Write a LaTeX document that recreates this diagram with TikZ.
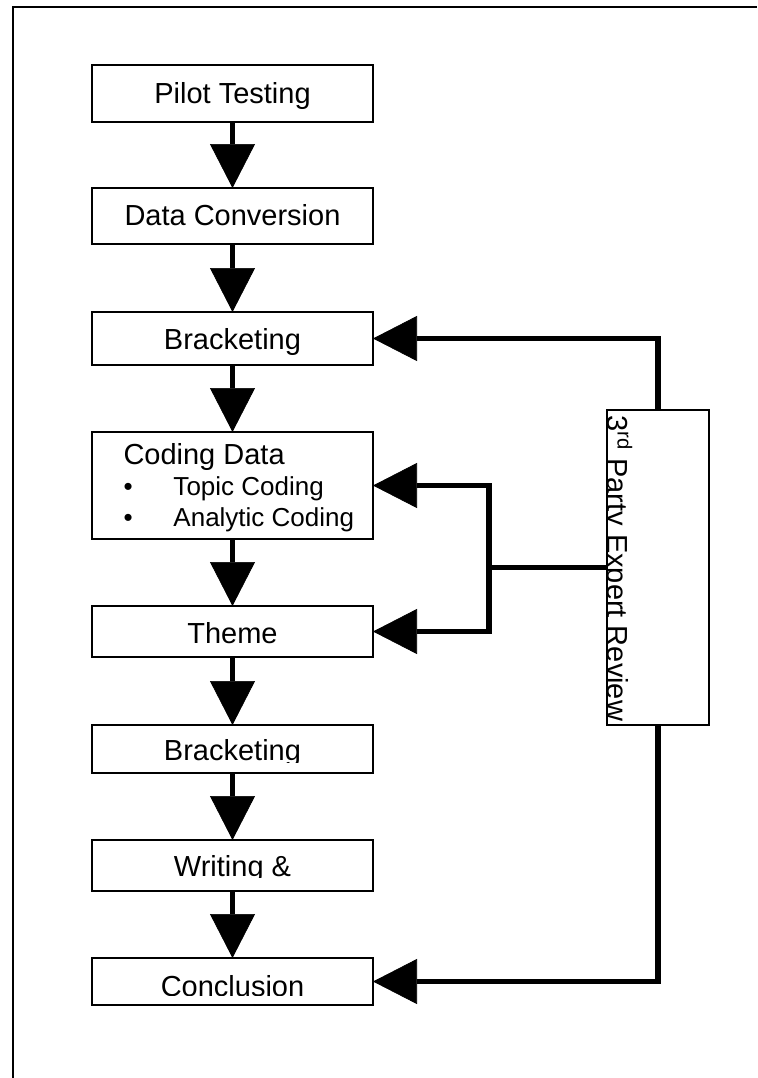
\documentclass[tikz,border=0pt]{standalone}
\usepackage{fontspec}
\setmainfont{Liberation Sans}
\usetikzlibrary{arrows.meta}

\tikzset{every picture/.style={line width=0.75pt}}
\tikzset{
  stepbox/.style={draw, rectangle, line width=1.25pt, minimum width=210.75pt, inner sep=0pt, outer sep=0pt},
  steptext/.style={inner sep=0pt, anchor=base, font=\fontsize{21.75}{23.25}\selectfont},
  flow/.style={line width=4.25pt, -{Triangle[length=33pt,width=33.75pt,line width=0.5pt]}},
  feed/.style={line width=4pt}
}

\begin{document}
\begin{tikzpicture}[x=0.75pt,y=0.75pt,yscale=-1]
  \useasboundingbox (0,0) rectangle (757,1078);

  %Frame
  \draw[line width=1.5pt] (13,1078) -- (13,7) -- (757,7);

  %Boxes
  \node[stepbox, minimum height=42.75pt] (pilot) at (232.5,93.5) {};
  \node[stepbox, minimum height=42pt] (conv) at (232.5,216) {};
  \node[stepbox, minimum height=39.75pt] (brk1) at (232.5,338.5) {};
  \node[stepbox, minimum height=80.25pt] (code) at (232.5,485.5) {};
  \node[stepbox, minimum height=38.25pt] (theme) at (232.5,631.5) {};
  \node[stepbox, minimum height=36pt] (brk2) at (232.5,749) {};
  \node[stepbox, minimum height=38.25pt] (write) at (232.5,865.5) {};
  \node[stepbox, minimum height=35.25pt] (concl) at (232.5,981.5) {};
  \node[stepbox, minimum width=76.5pt, minimum height=236.25pt] (review) at (658,567.5) {};

  % Text Node
  \node[steptext] (pilot-t) at (232.5,103) {Pilot Testing};
  \node[steptext] (conv-t) at (232.5,225) {Data Conversion};
  \node[steptext] (brk1-t) at (232.5,349) {Bracketing};
  \node[steptext, anchor=base west] (code-t) at (123,464) {\begin{tabular}[t]{@{}l@{}}
    Coding Data\\
    {\fontsize{19.5}{23.25}\selectfont\makebox[37.5pt][l]{\textbullet}Topic Coding}\\
    {\fontsize{19.5}{23.25}\selectfont\makebox[37.5pt][l]{\textbullet}Analytic Coding}
  \end{tabular}};
  \node[steptext] (theme-t) at (232.5,643) {Theme};
  \begin{scope}
    \clip (92,725) rectangle (373,762);
    \node[steptext] (brk2-t) at (232.5,760) {Bracketing};
  \end{scope}
  \begin{scope}
    \clip (92,840) rectangle (373,877);
    \node[steptext] (write-t) at (232.5,876) {Writing \&};
  \end{scope}
  \begin{scope}
    \clip (92,958) rectangle (373,995);
    \node[steptext] (concl-t) at (232.5,996) {Conclusion};
  \end{scope}
  \begin{scope}
    \clip (607,410) rectangle (709,725);
    \node[steptext, anchor=base west, rotate=-90] (review-t) at (607.5,415) {3\textsuperscript{rd} Party Expert Review};
  \end{scope}

  %Straight Lines
  \draw[flow] (pilot) -- (conv);
  \draw[flow] (conv) -- (brk1);
  \draw[flow] (brk1) -- (code);
  \draw[flow] (code) -- (theme);
  \draw[flow] (theme) -- (brk2);
  \draw[flow] (brk2) -- (write);
  \draw[flow] (write) -- (concl);

  %Review lines
  \coordinate (split) at (489,567.5);
  \draw[flow, line width=4pt] (review.north) |- (brk1.east);
  \draw[feed] (review.west) -- (split);
  \draw[flow, line width=4pt] (split) |- (code.east);
  \draw[flow, line width=4pt] (split) |- (theme.east);
  \draw[flow, line width=4pt] (review.south) |- (concl.east);

\end{tikzpicture}
\end{document}
